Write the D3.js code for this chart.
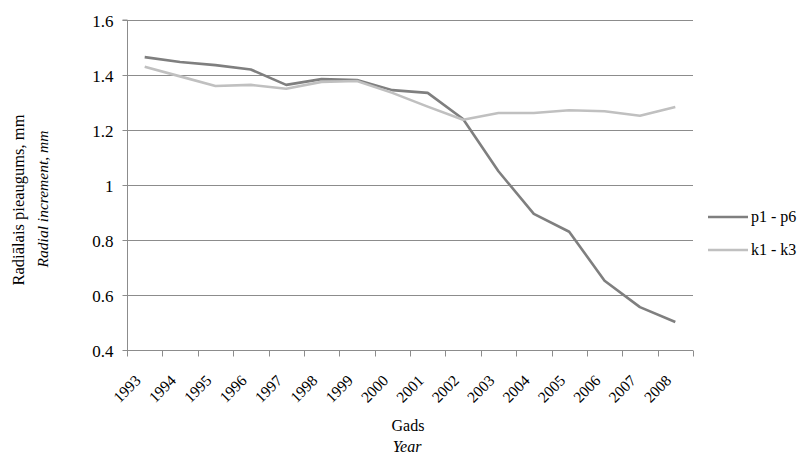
<!DOCTYPE html>
<html><head><meta charset="utf-8">
<script src="https://cdn.jsdelivr.net/npm/d3@7"></script>
</head><body style="margin:0"><svg id="c" width="797" height="457" font-family="Liberation Serif"></svg>
<script>
const years = ["1993","1994","1995","1996","1997","1998","1999","2000","2001","2002","2003","2004","2005","2006","2007","2008"];
const p1p6 = [1.465,1.447,1.436,1.420,1.364,1.385,1.382,1.345,1.335,1.240,1.050,0.895,0.830,0.652,0.556,0.502];
const k1k3 = [1.430,1.395,1.360,1.364,1.350,1.375,1.378,1.335,1.285,1.237,1.262,1.262,1.272,1.268,1.252,1.284];
const yTicks = [0.4,0.6,0.8,1,1.2,1.4,1.6];
const seriesNames = ["p1 - p6","k1 - k3"];
const colors = ["#7f7f7f","#c0c0c0"];
const FONT = "Liberation Serif";

const svg = d3.select("#c");
const L=127,R=693,T=20,B=350;
const x = d3.scaleBand().domain(years).range([L,R]);
const y = d3.scaleLinear().domain([0.4,1.6]).range([B,T]);

// grid
svg.append("g").selectAll("line").data(yTicks.slice(1)).join("line")
  .attr("x1",L).attr("x2",R).attr("y1",d=>Math.round(y(d))+0.5).attr("y2",d=>Math.round(y(d))+0.5)
  .attr("stroke","#8c8c8c").attr("stroke-width",1);

// y axis
const ya = svg.append("g").attr("transform",`translate(${L+0.5},0)`)
  .call(d3.axisLeft(y).tickValues(yTicks).tickSize(5).tickFormat(d=>d===1?"1":d3.format(".1f")(d)));
ya.attr("font-family",FONT).attr("font-size",17);
ya.select(".domain").attr("stroke","#8c8c8c").attr("d",`M-5,${T}H0V${B}`);
ya.selectAll(".tick line").attr("stroke","#8c8c8c");
ya.selectAll(".tick text").attr("font-family",FONT).attr("font-size",17).attr("fill","#000").attr("x",-14).attr("dy","0.4em");

// x axis
const xa = svg.append("g").attr("transform",`translate(0,${B+0.5})`)
  .call(d3.axisBottom(x).tickSize(0));
xa.attr("font-family",FONT).attr("font-size",15.5);
xa.select(".domain").attr("stroke","#8c8c8c").attr("d",`M${L},0H${R}`);
xa.selectAll(".tick line").remove();
const bounds = years.map(d=>x(d)).concat([R]);
xa.append("g").selectAll("line").data(bounds).join("line")
  .attr("x1",d=>Math.round(d)+0.5).attr("x2",d=>Math.round(d)+0.5).attr("y1",0).attr("y2",6)
  .attr("stroke","#8c8c8c");
xa.selectAll(".tick text").attr("font-family",FONT).attr("font-size",15.5).attr("fill","#000")
  .attr("text-anchor","end").attr("dy",null).attr("y",0)
  .attr("transform","translate(-3,31) rotate(-45)");

// lines
const line = d3.line().x((d,i)=>x(years[i])+x.bandwidth()/2).y(d=>y(d));
[p1p6,k1k3].forEach((s,i)=>{
  svg.append("path").datum(s).attr("d",line).attr("fill","none")
    .attr("stroke",colors[i]).attr("stroke-width",2.6).attr("stroke-linejoin","round");
});
// legend
const leg = svg.append("g");
seriesNames.forEach((n,i)=>{
  const ly = 217 + i*33;
  leg.append("line").attr("x1",708).attr("x2",748).attr("y1",ly).attr("y2",ly).attr("stroke",colors[i]).attr("stroke-width",2.6);
  leg.append("text").attr("x",751).attr("y",ly).attr("dy","0.33em").attr("font-family",FONT).attr("font-size",16).text(n);
});

// titles
function title(tx, ty, rot, italic, size, s){
  svg.append("text").attr("transform",`translate(${tx},${ty}) rotate(${rot})`).attr("text-anchor","middle")
    .attr("font-family",FONT).attr("font-size",size).attr("font-style",italic?"italic":"normal").text(s);
}
title(408,431,0,false,16,"Gads");
title(407,452,0,true,16,"Year");
title(24,200,-90,false,16.5,"Radiālais pieaugums, mm");
title(48,199,-90,true,15.5,"Radial increment, mm");
</script></body></html>
